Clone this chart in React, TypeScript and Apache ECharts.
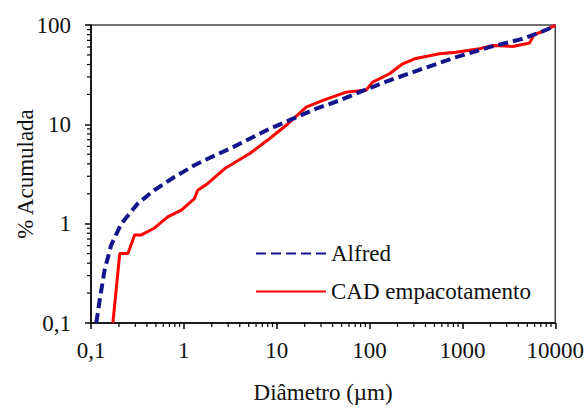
import React, { useEffect, useRef } from "react";
import * as echarts from "echarts";

const alfredX = [0.114, 0.124, 0.14, 0.165, 0.212, 0.32, 0.48, 0.79, 1.3, 1.81, 3.39, 7.75, 15, 26.7, 47.5, 78, 164, 374, 855, 1950, 4450, 7000, 9340, 10000];
const alfredY = [0.1, 0.17, 0.34, 0.61, 1.0, 1.6, 2.17, 2.95, 3.87, 4.5, 5.9, 8.7, 11.4, 14.4, 17.4, 21.1, 27.7, 36.3, 47.4, 59.8, 72.6, 85, 95, 97];

const cadX = [0.172, 0.204, 0.25, 0.295, 0.348, 0.48, 0.67, 0.94, 1.3, 1.41, 1.81, 2.76, 5.13, 8.4, 12.7, 20.8, 31.5, 56, 92, 108, 164, 228, 305, 566, 855, 1524, 2120, 3475, 5300, 5900, 7300, 10000];
const cadY = [0.1, 0.5, 0.5, 0.77, 0.77, 0.9, 1.17, 1.37, 1.79, 2.17, 2.54, 3.59, 5.08, 7.2, 9.8, 14.9, 17.4, 21.1, 22.2, 26.6, 32.3, 40.7, 45.7, 51.3, 53.3, 57.6, 62.2, 60.8, 66, 80, 86, 99];

const xMinorTicks = [0.2, 0.3, 0.4, 0.5, 0.6, 0.7, 0.8, 0.9, 2, 3, 4, 5, 6, 7, 8, 9, 20, 30, 40, 50, 60, 70, 80, 90, 200, 300, 400, 500, 600, 700, 800, 900, 2000, 3000, 4000, 5000, 6000, 7000, 8000, 9000];
const yMinorTicks = [0.2, 0.3, 0.4, 0.5, 0.6, 0.7, 0.8, 0.9, 2, 3, 4, 5, 6, 7, 8, 9, 20, 30, 40, 50, 60, 70, 80, 90];

const FONT = "Times New Roman, Liberation Serif, serif";
const fmt = (v: number) => (v < 1 ? v.toFixed(1).replace(".", ",") : String(Math.round(v)));
const txt = { fontFamily: FONT, fontSize: 23, color: "#111" };

export default function App() {
  const ref = useRef<HTMLDivElement>(null);
  useEffect(() => {
    if (!ref.current) return;
    const chart = echarts.init(ref.current, undefined, { renderer: "svg" });
    chart.setOption({
      animation: false,
      backgroundColor: "#fff",
      textStyle: { fontFamily: FONT },
      grid: { left: 91, top: 25, width: 465, height: 298, show: true, borderColor: "#444", borderWidth: 1.5 },
      legend: {
        data: ["Alfred", "CAD empacotamento"],
        orient: "vertical",
        left: 250,
        top: 237,
        itemWidth: 70,
        itemHeight: 14,
        itemGap: 15,
        itemStyle: { opacity: 0 },
        textStyle: { ...txt },
      },
      xAxis: {
        type: "log",
        logBase: 10,
        min: 0.1,
        max: 10000,
        name: "Diâmetro (µm)",
        nameLocation: "middle",
        nameGap: 58,
        nameMoveOverlap: false,
        nameTextStyle: { ...txt },
        axisLine: { onZero: false, lineStyle: { color: "#000", width: 1.5 } },
        axisTick: { show: true, length: 6, lineStyle: { color: "#000", width: 1.5 } },
        axisLabel: { ...txt, margin: 16, formatter: fmt },
        splitLine: { show: false },
      },
      yAxis: {
        type: "log",
        logBase: 10,
        min: 0.1,
        max: 100,
        name: "% Acumulada",
        nameLocation: "middle",
        nameGap: 54,
        nameMoveOverlap: false,
        nameTextStyle: { ...txt },
        axisLine: { onZero: false, lineStyle: { color: "#000", width: 1.5 } },
        axisTick: { show: true, length: 6, lineStyle: { color: "#000", width: 1.5 } },
        axisLabel: { ...txt, margin: 20, formatter: fmt },
        splitLine: { show: false },
      },
      series: [
        {
          name: "Alfred",
          type: "line",
          data: alfredX.map((x, i) => [x, alfredY[i]]),
          symbol: "none",
          showSymbol: false,
          smooth: false,
          color: "#14148c",
          lineStyle: { color: "#14148c", width: 4, type: [10, 5] },
          z: 3,
        },
        {
          name: "CAD empacotamento",
          type: "line",
          data: cadX.map((x, i) => [x, cadY[i]]),
          symbol: "none",
          showSymbol: false,
          color: "#ff0000",
          lineStyle: { color: "#ff0000", width: 3 },
          z: 2,
        },
        {
          type: "custom",
          silent: true,
          clip: false,
          data: xMinorTicks.map((v) => [v, 0.1]),
          renderItem: (_p: any, api: any) => {
            const p = api.coord([api.value(0), api.value(1)]);
            return { type: "line", shape: { x1: p[0], y1: p[1], x2: p[0], y2: p[1] + 4 }, style: { stroke: "#000", lineWidth: 1.2 } };
          },
          z: 5,
        },
        {
          type: "custom",
          silent: true,
          clip: false,
          data: yMinorTicks.map((v) => [0.1, v]),
          renderItem: (_p: any, api: any) => {
            const p = api.coord([api.value(0), api.value(1)]);
            return { type: "line", shape: { x1: p[0], y1: p[1], x2: p[0] - 4, y2: p[1] }, style: { stroke: "#000", lineWidth: 1.2 } };
          },
          z: 5,
        },
      ],
    });
    return () => chart.dispose();
  }, []);
  return <div ref={ref} style={{ position: "absolute", left: 0, top: 0, width: 587, height: 409 }} />;
}
